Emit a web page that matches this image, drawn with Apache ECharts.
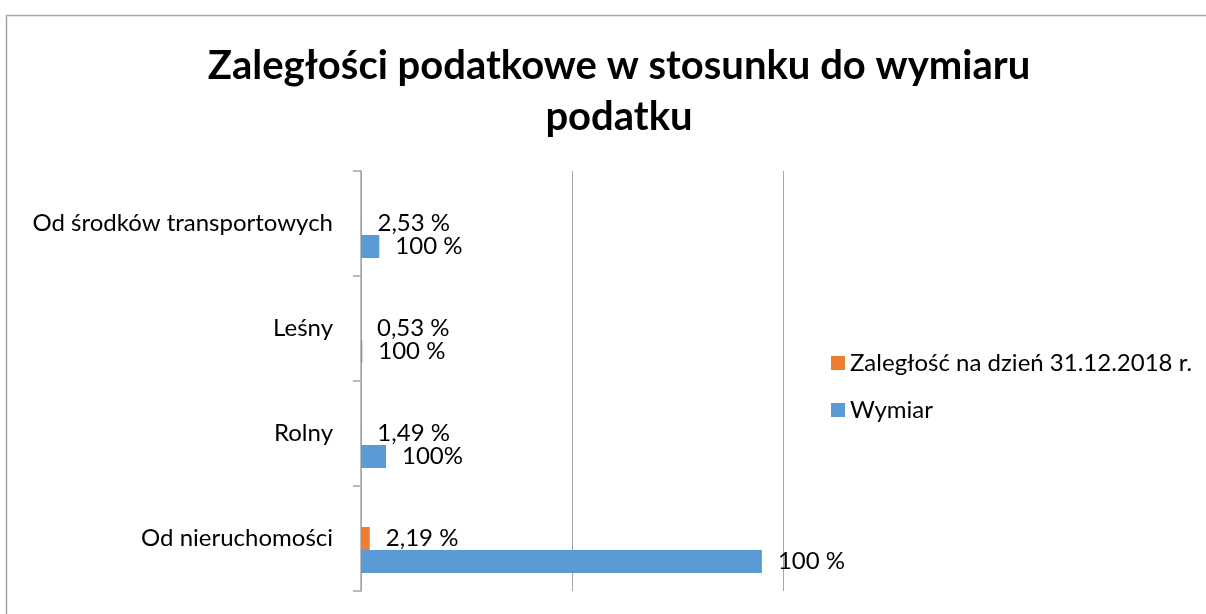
<!DOCTYPE html>
<html>
<head>
<meta charset="utf-8">
<script src="https://cdn.jsdelivr.net/npm/echarts@6/dist/echarts.min.js"></script>
<style>
html, body { margin: 0; padding: 0; background: #fff; }
#main { width: 1206px; height: 614px; }
</style>
</head>
<body>
<div id="main"></div>
<script>
// kategorie od dołu do góry (tak jak na osi Y)
var kategorie = ['Od nieruchomości', 'Rolny', 'Leśny', 'Od środków transportowych'];
var wymiar = [1900000, 118500, 6000, 86700];
var zaleglosc = [41600, 1770, 32, 2190];
var etykietyZal = ['2,19 %', '1,49 %', '0,53 %', '2,53 %'];
var etykietyWym = ['100 %', '100%', '100 %', '100 %'];
var pusta = ['-', '-', '-', '-'];

var font = 'Lato, "Open Sans", sans-serif';

var myChart = echarts.init(document.getElementById('main'));
var option = {
	backgroundColor: '#fff',
	animation: false,
	title: {
		text: 'Zaległości podatkowe w stosunku do wymiaru\npodatku',
		left: 614,
		top: 36,
		textAlign: 'center',
		textStyle: {
			fontFamily: font,
			fontWeight: 'bold',
			fontSize: 40,
			lineHeight: 51,
			color: '#000'
		}
	},
	graphic: [{
		type: 'rect',
		left: 4,
		top: 13,
		shape: {width: 1300, height: 700},
		style: {fill: 'none', stroke: '#a6a6a6', lineWidth: 1.5},
		silent: true
	}],
	legend: {
		orient: 'vertical',
		left: 826,
		top: 346,
		itemWidth: 14,
		itemHeight: 14,
		itemGap: 23,
		icon: 'rect',
		data: ['Zaległość na dzień 31.12.2018 r.', 'Wymiar'],
		textStyle: {fontFamily: font, fontSize: 24, lineHeight: 24, color: '#000'}
	},
	grid: {left: 361, top: 171, right: 423, bottom: 23, containLabel: false},
	xAxis: {
		type: 'value',
		min: 0,
		max: 2000000,
		interval: 1000000,
		axisLine: {show: false},
		axisTick: {show: false},
		axisLabel: {show: false},
		splitLine: {lineStyle: {color: '#a6a6a6', width: 1}}
	},
	yAxis: {
		type: 'category',
		data: kategorie,
		axisLine: {lineStyle: {color: '#a6a6a6', width: 1.5}},
		axisTick: {show: true, length: 8, lineStyle: {color: '#a6a6a6', width: 1.5}},
		axisLabel: {margin: 28, fontFamily: font, fontSize: 24, color: '#000'}
	},
	series: [{
		name: 'pusta',
		type: 'bar',
		barWidth: 23,
		barGap: '0%',
		data: pusta
	}, {
		name: 'Zaległość na dzień 31.12.2018 r.',
		type: 'bar',
		barWidth: 23,
		barGap: '0%',
		itemStyle: {color: '#ED7D31'},
		label: {
			show: true,
			position: 'right',
			distance: 16,
			fontFamily: font,
			fontSize: 24,
			color: '#000',
			formatter: function(p){ return etykietyZal[p.dataIndex]; }
		},
		data: zaleglosc
	}, {
		name: 'Wymiar',
		type: 'bar',
		barWidth: 23,
		barGap: '0%',
		itemStyle: {color: '#5B9BD5'},
		label: {
			show: true,
			position: 'right',
			distance: 16,
			fontFamily: font,
			fontSize: 24,
			color: '#000',
			formatter: function(p){ return etykietyWym[p.dataIndex]; }
		},
		data: wymiar
	}]
};
myChart.setOption(option);
</script>
</body>
</html>
